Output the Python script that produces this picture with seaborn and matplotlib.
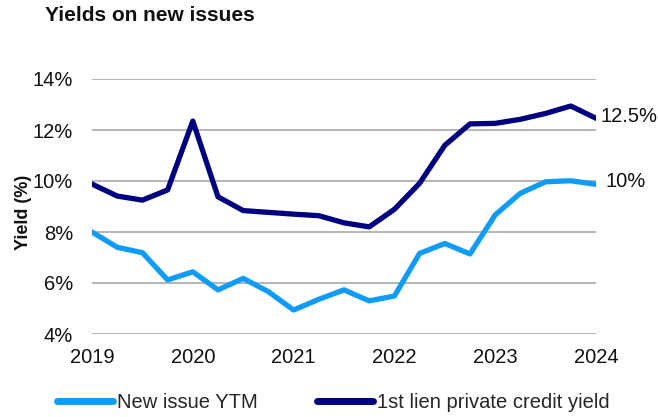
import matplotlib
matplotlib.use("Agg")
import matplotlib.pyplot as plt
import seaborn as sns
import numpy as np
import pandas as pd

# Quarterly observations, 2019 Q1 through 2024 Q1
quarters = [2019 + q / 4 for q in range(21)]
new_issue_ytm = [8.0, 7.4, 7.19, 6.12, 6.44, 5.73, 6.18, 5.66, 4.94, 5.36, 5.73,
                 5.3, 5.49, 7.16, 7.55, 7.14, 8.67, 9.52, 9.97, 10.01, 9.87]
first_lien_yield = [9.88, 9.41, 9.25, 9.65, 12.35, 9.38, 8.84, 8.77, 8.7, 8.64, 8.36,
                    8.2, 8.89, 9.91, 11.4, 12.24, 12.26, 12.42, 12.65, 12.94, 12.46]
series_names = ["New issue YTM", "1st lien private credit yield"]
year_ticks = [2019, 2020, 2021, 2022, 2023, 2024]
pct_ticks = [4, 6, 8, 10, 12, 14]

colors = {"New issue YTM": "#0F9BF8", "1st lien private credit yield": "#000080"}

df = pd.concat([
    pd.DataFrame({"date": quarters, "yield": new_issue_ytm, "series": series_names[0]}),
    pd.DataFrame({"date": quarters, "yield": first_lien_yield, "series": series_names[1]}),
])

sns.set_style("white")
plt.rcParams["font.family"] = ["Liberation Sans", "DejaVu Sans"]

W, H = 658, 417
fig = plt.figure(figsize=(W / 100, H / 100), dpi=100)
ax = fig.add_axes([92 / W, 1 - 334 / H, (596 - 92) / W, (334 - 79) / H])

sns.lineplot(data=df, x="date", y="yield", hue="series", palette=colors,
             linewidth=3.8, ax=ax, legend=False, zorder=3)

ax.set_xlim(2019, 2024)
ax.set_ylim(4, 14)
ax.set_xticks(year_ticks)
ax.set_xticklabels([str(y) for y in year_ticks])
ax.set_yticks(pct_ticks)
ax.set_yticklabels([f"{t}%" for t in pct_ticks])
ax.tick_params(axis="both", length=0, labelsize=14.5, colors="#111111")
ax.tick_params(axis="x", pad=10)
ax.tick_params(axis="y", pad=13.5)
ax.set_xlabel("")
ax.set_ylabel("")
ax.grid(axis="y", color="#A0A0A0", linewidth=1.1)
ax.grid(axis="x", visible=False)
for s in ax.spines.values():
    s.set_visible(False)

# End-of-series value labels
ax.annotate(f"{first_lien_yield[-1]:.1f}%", (quarters[-1], first_lien_yield[-1]),
            xytext=(3, 1), textcoords="offset points", va="center", ha="left",
            fontsize=14.5, color="#111111", annotation_clip=False)
ax.annotate(f"{round(new_issue_ytm[-1]):.0f}%", (quarters[-1], new_issue_ytm[-1]),
            xytext=(7, 2), textcoords="offset points", va="center", ha="left",
            fontsize=14.5, color="#111111", annotation_clip=False)

fig.text(45 / W, 1 - 21 / H, "Yields on new issues", fontsize=15, fontweight="bold",
         ha="left", va="baseline", color="#111111")
fig.text(24 / W, 1 - 212 / H, "Yield (%)", fontsize=13, fontweight="bold",
         rotation=90, ha="center", va="center", color="#111111")

handles = [plt.Line2D([], [], color=colors[n], linewidth=5, solid_capstyle="round")
           for n in series_names]
fig.legend(handles, series_names, loc="center left",
           bbox_to_anchor=(57 / W, 1 - 403 / H), ncol=2, frameon=False,
           fontsize=14.5, handlelength=2.8, handletextpad=0.2, columnspacing=2.9,
           borderpad=0, borderaxespad=0)

fig.savefig("out.png", dpi=100)
